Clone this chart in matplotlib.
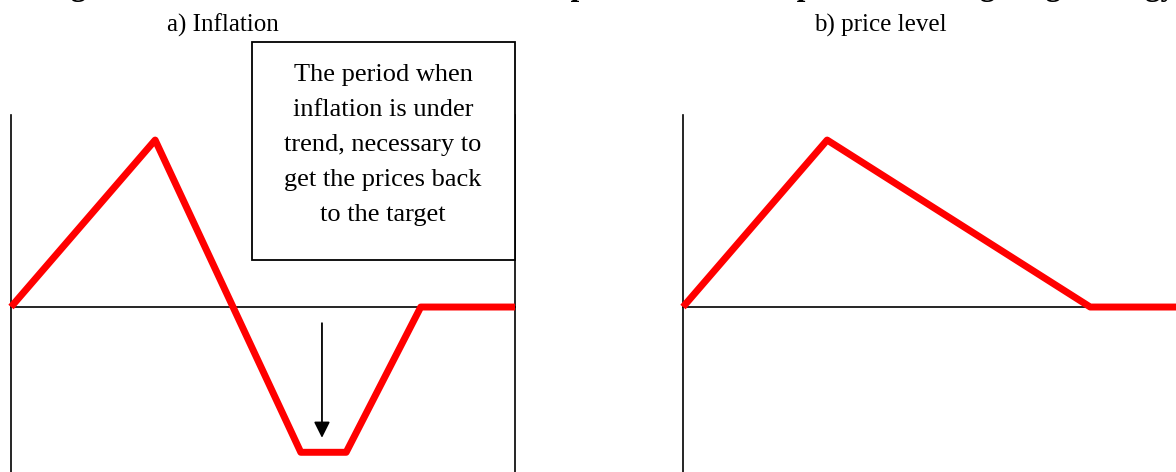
import matplotlib.pyplot as plt
from matplotlib.patches import Rectangle

plt.rcParams['font.family'] = ['Liberation Serif', 'DejaVu Serif']

# panel a) inflation gap over time
infl_t = [0, 2.86, 5.75, 6.65, 8.13, 10]
infl_y = [0, 1.0, -0.87, -0.87, 0, 0]

# panel b) price level gap over time
price_t = [0, 2.86, 8.08, 10]
price_y = [0, 1.0, 0, 0]

title = ('Figure 3: Evolution of inflation and the price level in the '
         'price level targeting strategy')
panel_titles = ['a) Inflation', 'b) price level']
note = ('The period when\ninflation is under\ntrend, necessary to\n'
        'get the prices back\nto the target')

W, H = 1176, 472
fig = plt.figure(figsize=(W / 100, H / 100), dpi=100)


def px(x, y):
    return x / W, 1 - y / H


def style_axes(ax, right=True):
    ax.set_xlim(0, 10)
    ax.set_ylim(-0.988, 1.15)
    ax.set_xticks([])
    ax.set_yticks([])
    ax.patch.set_visible(False)
    ax.spines['top'].set_visible(False)
    ax.spines['right'].set_visible(right)
    ax.spines['bottom'].set_position(('data', 0))
    for s in ('left', 'right', 'bottom'):
        ax.spines[s].set_linewidth(1.2)
        ax.spines[s].set_color('black')


ax1 = fig.add_axes([11 / W, 0, 504 / W, 357 / H])
style_axes(ax1, right=True)
ax1.plot(infl_t, infl_y, color='#ff0000', lw=5, clip_on=False, zorder=5,
         solid_capstyle='butt')
ax1.annotate('', xy=(6.17, -0.80), xytext=(6.17, -0.08),
             arrowprops=dict(arrowstyle='-|>', mutation_scale=24,
                             lw=1.3, color='black'))

ax2 = fig.add_axes([683 / W, 0, 504 / W, 357 / H])
style_axes(ax2, right=False)
ax2.plot(price_t, price_y, color='#ff0000', lw=5, clip_on=False, zorder=5,
         solid_capstyle='butt')

# note box
x0, y0 = px(252, 260)
x1, y1 = px(515, 42)
fig.patches.append(Rectangle((x0, y0), x1 - x0, y1 - y0, transform=fig.transFigure,
                             fill=True, facecolor='white', edgecolor='black',
                             lw=1.3, zorder=10))
fig.text(*px(383, 145), note, ha='center', va='center', fontsize=19,
         linespacing=1.76, zorder=11)

fig.text(*px(223, 25), panel_titles[0], ha='center', va='center', fontsize=18)
fig.text(*px(880, 25), panel_titles[1], ha='center', va='center', fontsize=18)

# the heading is cut off at the top of the picture
fig.text(43.4 / W, 1 + 4.8 / H, title, ha='left', va='baseline', fontsize=22.4,
         fontweight='bold')

fig.savefig('out.png', dpi=100)
